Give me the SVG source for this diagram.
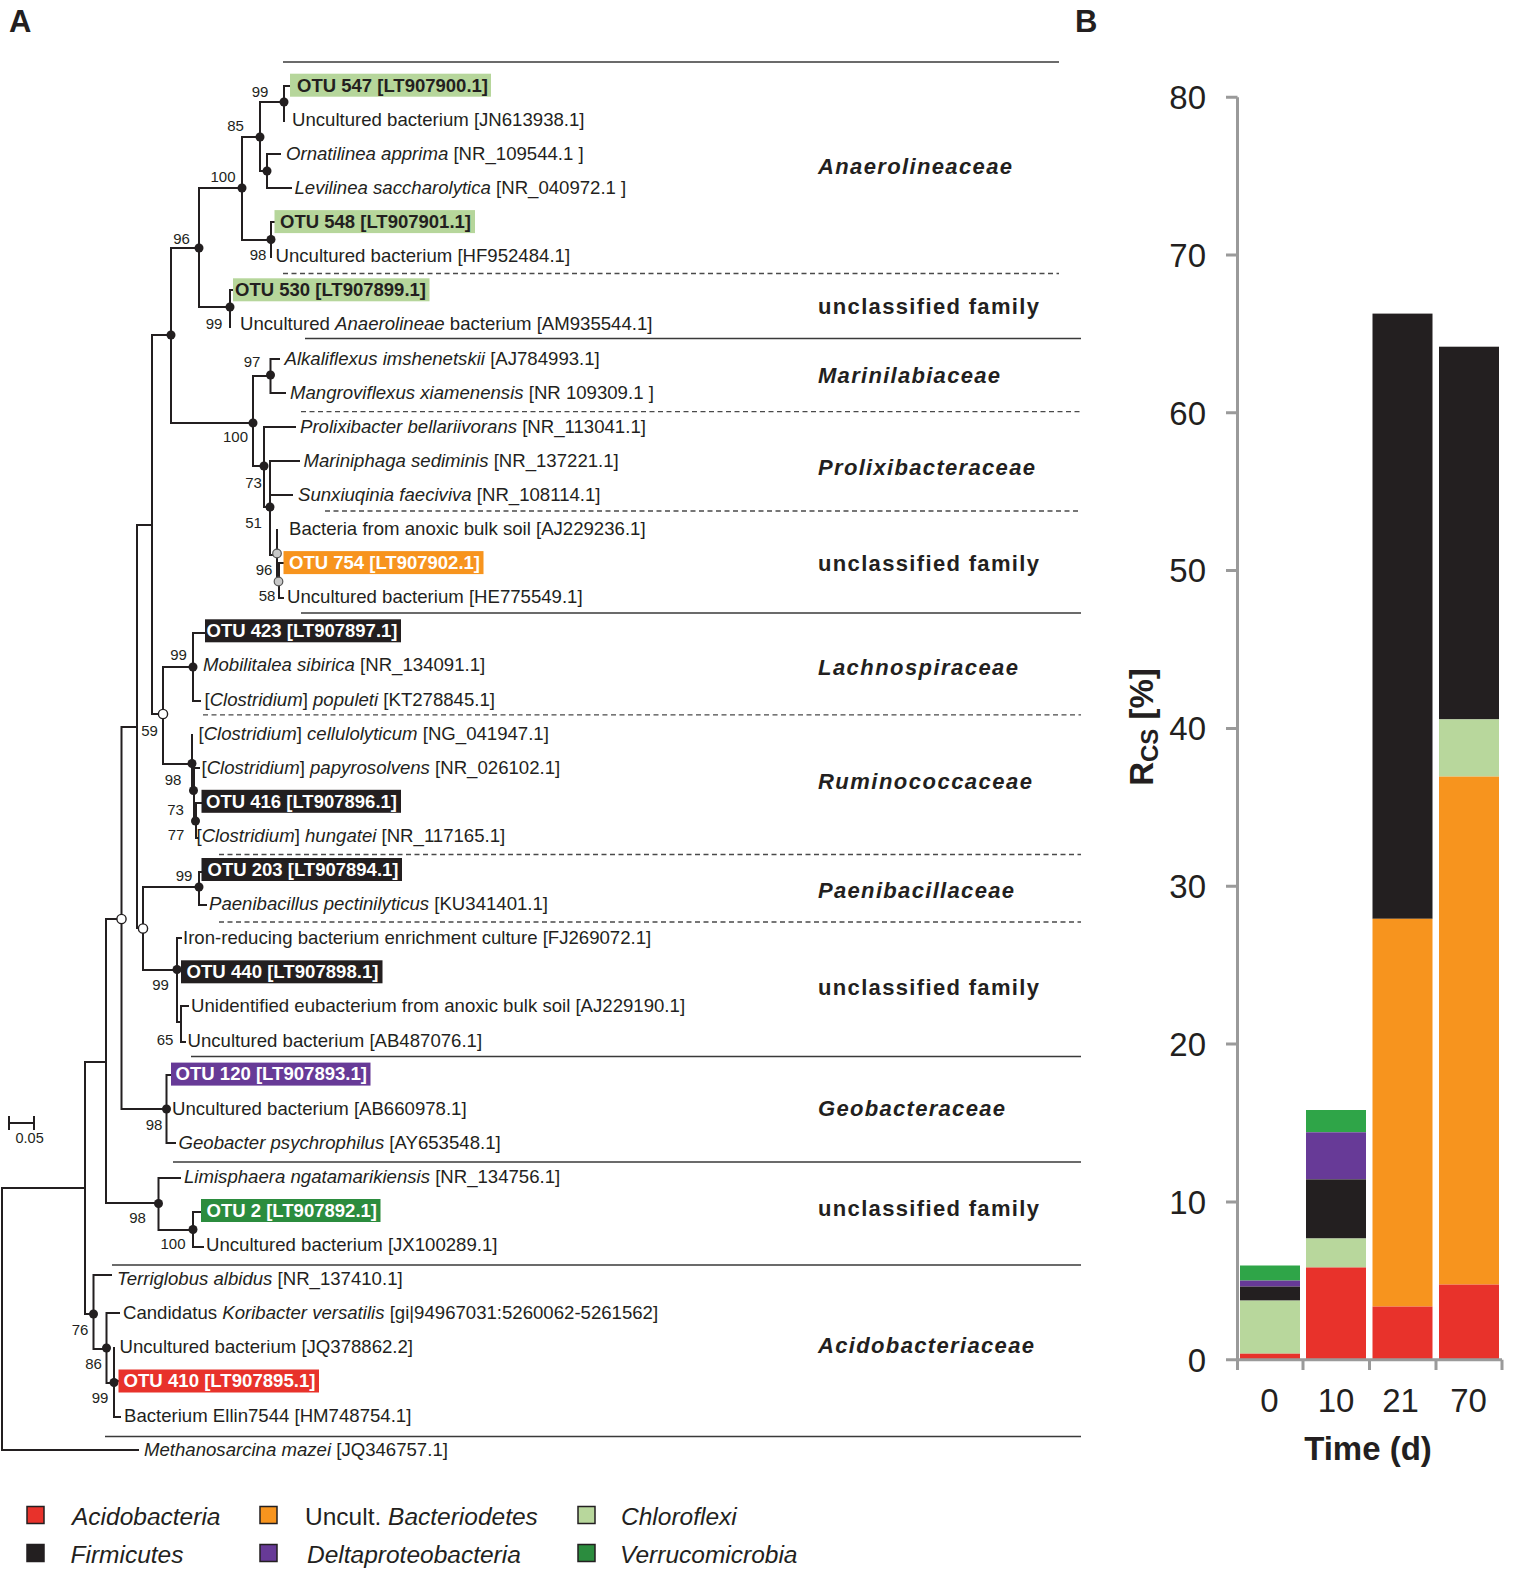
<svg xmlns="http://www.w3.org/2000/svg" width="1538" height="1571" viewBox="0 0 1538 1571">
<style>
text{font-family:"Liberation Sans",Arial,Helvetica,sans-serif;fill:#231f20}
.t{font-size:18.6px}
.i{font-style:italic}
.otu{font-size:17.5px;font-weight:bold}
.w{fill:#fff}
.bs{font-size:15px;text-anchor:middle}
.fam{font-size:22px;font-weight:bold}
.br{fill:none;stroke:#231f20;stroke-width:2;stroke-linecap:square}
.sep{stroke:#3a3a3a;stroke-width:1.5}
.dash{stroke:#4a4a4a;stroke-width:1.3;stroke-dasharray:5 3.5}
.dot{fill:#231f20}
.odot{fill:#fff;stroke:#231f20;stroke-width:1.4}
.gdot{fill:#c8c8c8;stroke:#555;stroke-width:1.2}
.ax{stroke:#9a9a9a;stroke-width:3;fill:none}
.tk{font-size:33px}
.leg{font-size:24.5px}
.sq{stroke:#231f20;stroke-width:1.5}
</style>

<text x="9" y="32" font-size="31" font-weight="bold">A</text>
<text x="1075" y="32" font-size="31" font-weight="bold">B</text>

<!-- family separators -->
<g id="separators">
<line class="sep" x1="283" y1="62" x2="1059" y2="62"/>
<line class="dash" x1="283" y1="273.5" x2="1059" y2="273.5"/>
<line class="sep" x1="305" y1="338.5" x2="1081" y2="338.5"/>
<line class="dash" x1="301" y1="411.7" x2="1081" y2="411.7"/>
<line class="dash" x1="325" y1="511" x2="1081" y2="511"/>
<line class="sep" x1="301" y1="613" x2="1081" y2="613"/>
<line class="dash" x1="203" y1="714.8" x2="1081" y2="714.8"/>
<line class="dash" x1="219" y1="854.5" x2="1081" y2="854.5"/>
<line class="dash" x1="219" y1="922" x2="1081" y2="922"/>
<line class="sep" x1="191" y1="1056.5" x2="1081" y2="1056.5"/>
<line class="sep" x1="173" y1="1162" x2="1081" y2="1162"/>
<line class="sep" x1="112" y1="1265" x2="1081" y2="1265"/>
<line class="sep" x1="105" y1="1436.5" x2="1081" y2="1436.5"/>
</g>

<!-- family labels -->
<g id="families">
<text class="fam i" x="818" y="174" textLength="194" lengthAdjust="spacing">Anaerolineaceae</text>
<text class="fam" x="818" y="314" textLength="221" lengthAdjust="spacing">unclassified family</text>
<text class="fam i" x="818" y="383" textLength="182" lengthAdjust="spacing">Marinilabiaceae</text>
<text class="fam i" x="818" y="474.5" textLength="217" lengthAdjust="spacing">Prolixibacteraceae</text>
<text class="fam" x="818" y="570.5" textLength="221" lengthAdjust="spacing">unclassified family</text>
<text class="fam i" x="818" y="674.5" textLength="200" lengthAdjust="spacing">Lachnospiraceae</text>
<text class="fam i" x="818" y="789" textLength="214" lengthAdjust="spacing">Ruminococcaceae</text>
<text class="fam i" x="818" y="898" textLength="196" lengthAdjust="spacing">Paenibacillaceae</text>
<text class="fam" x="818" y="994.5" textLength="221" lengthAdjust="spacing">unclassified family</text>
<text class="fam i" x="818" y="1115.5" textLength="187" lengthAdjust="spacing">Geobacteraceae</text>
<text class="fam" x="818" y="1216" textLength="221" lengthAdjust="spacing">unclassified family</text>
<text class="fam i" x="818" y="1353" textLength="216" lengthAdjust="spacing">Acidobacteriaceae</text>
</g>

<!-- tree branches -->
<g id="connectors">
<path class="br" d="M284 86V121M284 86H290"/>
<path class="br" d="M260 102V171M260 102H284M260 171H267"/>
<path class="br" d="M267 154V188M267 154H280M267 188H291"/>
<path class="br" d="M242 137V240M242 137H260M242 240H271"/>
<path class="br" d="M271 222V257M271 222H274"/>
<path class="br" d="M199 188V307M199 188H242M199 307H230"/>
<path class="br" d="M230 290V327M230 290H233"/>
<path class="br" d="M171 248V423M171 248H199M171 423H253"/>
<path class="br" d="M253 376V466M253 376H270M253 466H264"/>
<path class="br" d="M270.5 359V393M270.5 359H279M270.5 393H285"/>
<path class="br" d="M264 427V507M264 427H295M264 507H270"/>
<path class="br" d="M270 461V555M270 461H299M270 495H292M270 555H277"/>
<path class="br" d="M277 530V581M277 581H279"/>
<path class="br" d="M279 563V598M279 563H283M279 598H283"/>
<path class="br" d="M152 335V714M152 335H171M152 714H163"/>
<path class="br" d="M163 667V764M163 667H193M163 764H192"/>
<path class="br" d="M193 633V701M193 633H204M193 701H200"/>
<path class="br" d="M192 735V790"/>
<path class="br" d="M194 768V822M194 768H199"/>
<path class="br" d="M196 803V838M196 803H201M196 838H198"/>
<path class="br" d="M137 525V928M137 525H152M137 928H143"/>
<path class="br" d="M143 887V970M143 887H199M143 970H177"/>
<path class="br" d="M199 872V905M199 872H201M199 905H206"/>
<path class="br" d="M177 938V1022M177 938H181M177 1022H181"/>
<path class="br" d="M181 1006V1042M181 1006H188M181 1042H185"/>
<path class="br" d="M121.5 727V1109M121.5 727H137M121.5 1109H166.5"/>
<path class="br" d="M166.5 1075V1143M166.5 1075H170M166.5 1143H175"/>
<path class="br" d="M106 919V1203M106 919H121.5M106 1203H158.5"/>
<path class="br" d="M158.5 1178V1230M158.5 1178H180M158.5 1230H193"/>
<path class="br" d="M193 1212V1247M193 1212H200M193 1247H203"/>
<path class="br" d="M85 1062V1314M85 1062H106M85 1314H93.5"/>
<path class="br" d="M93.5 1275V1349M93.5 1275H111M93.5 1349H106.5"/>
<path class="br" d="M106.5 1313V1383M106.5 1313H119M106.5 1383H114"/>
<path class="br" d="M114 1348V1417M114 1381H118M114 1417H120"/>
<path class="br" d="M2 1188V1450M2 1188H85M2 1450H138"/>
<path class="br" d="M9 1123H34M9 1117V1129M34 1117V1129" stroke-width="1.8"/>
</g>
<text x="15.5" y="1143" font-size="14.5">0.05</text>

<!-- internal nodes -->
<g id="internal-nodes">
<circle id="n01" class="dot" cx="284" cy="102" r="4.5"/>
<circle id="n02" class="dot" cx="260" cy="137" r="4.5"/>
<circle id="n03" class="dot" cx="267" cy="171" r="4.5"/>
<circle id="n04" class="dot" cx="242" cy="188" r="4.5"/>
<circle id="n05" class="dot" cx="271" cy="239.5" r="4.5"/>
<circle id="n06" class="dot" cx="199" cy="248" r="4.5"/>
<circle id="n07" class="dot" cx="230" cy="307" r="4.5"/>
<circle id="n08" class="dot" cx="171" cy="335" r="4.5"/>
<circle id="n09" class="dot" cx="270.5" cy="375" r="4.5"/>
<circle id="n10" class="dot" cx="253" cy="423" r="4.5"/>
<circle id="n11" class="dot" cx="264" cy="466" r="4.5"/>
<circle id="n12" class="dot" cx="270" cy="507" r="4.5"/>
<circle id="n13" class="gdot" cx="277" cy="553.5" r="4.3"/>
<circle id="n14" class="gdot" cx="278.5" cy="581.5" r="4.3"/>
<circle id="n15" class="odot" cx="163" cy="714" r="4.6"/>
<circle id="n16" class="dot" cx="193" cy="667" r="4.5"/>
<circle id="n17" class="dot" cx="192" cy="763.5" r="4.5"/>
<circle id="n18" class="dot" cx="193.5" cy="790.5" r="4.5"/>
<circle id="n19" class="dot" cx="195.5" cy="821" r="4.5"/>
<circle id="n20" class="dot" cx="199" cy="887" r="4.5"/>
<circle id="n21" class="odot" cx="143" cy="928.5" r="4.6"/>
<circle id="n22" class="dot" cx="177" cy="969.5" r="4.5"/>
<circle id="n23" class="odot" cx="121.5" cy="919" r="4.6"/>
<circle id="n24" class="dot" cx="166.5" cy="1109" r="4.5"/>
<circle id="n25" class="dot" cx="158.5" cy="1203.5" r="4.5"/>
<circle id="n26" class="dot" cx="193" cy="1229.5" r="4.5"/>
<circle id="n27" class="dot" cx="93.5" cy="1314" r="4.5"/>
<circle id="n28" class="dot" cx="106.5" cy="1348" r="4.5"/>
<circle id="n29" class="dot" cx="114" cy="1382.5" r="4.5"/>
</g>

<!-- bootstrap values -->
<g id="bootstrap">
<text class="bs" x="260" y="97">99</text>
<text class="bs" x="235.5" y="130.5">85</text>
<text class="bs" x="223" y="182">100</text>
<text class="bs" x="181.5" y="243.5">96</text>
<text class="bs" x="258" y="259.5">98</text>
<text class="bs" x="214" y="328.5">99</text>
<text class="bs" x="252" y="367">97</text>
<text class="bs" x="235.5" y="442">100</text>
<text class="bs" x="253.5" y="488">73</text>
<text class="bs" x="253.5" y="528">51</text>
<text class="bs" x="264" y="574.5">96</text>
<text class="bs" x="267" y="601">58</text>
<text class="bs" x="178.5" y="659.5">99</text>
<text class="bs" x="149.5" y="735.5">59</text>
<text class="bs" x="173" y="785">98</text>
<text class="bs" x="175.5" y="814.5">73</text>
<text class="bs" x="176" y="840">77</text>
<text class="bs" x="184" y="881">99</text>
<text class="bs" x="160.5" y="989.5">99</text>
<text class="bs" x="165" y="1045">65</text>
<text class="bs" x="154" y="1130">98</text>
<text class="bs" x="137.5" y="1223">98</text>
<text class="bs" x="173" y="1249">100</text>
<text class="bs" x="80" y="1335">76</text>
<text class="bs" x="93.5" y="1369">86</text>
<text class="bs" x="100" y="1403">99</text>
</g>

<!-- leaves -->
<g id="leaf01"><rect x="290" y="73.7" width="201" height="23" fill="#b6d69b"/><text class="otu" x="297" y="91.5" textLength="191" lengthAdjust="spacingAndGlyphs">OTU 547 [LT907900.1]</text></g>
<g id="leaf02"><text class="t" x="292" y="125.8">Uncultured bacterium [JN613938.1]</text></g>
<g id="leaf03"><text class="t" x="286" y="159.9"><tspan class="i">Ornatilinea apprima</tspan> [NR_109544.1 ]</text></g>
<g id="leaf04"><text class="t" x="294.5" y="194"><tspan class="i">Levilinea saccharolytica</tspan> [NR_040972.1 ]</text></g>
<g id="leaf05"><rect x="274.5" y="210.1" width="200.5" height="23" fill="#b6d69b"/><text class="otu" x="280" y="227.9" textLength="191" lengthAdjust="spacingAndGlyphs">OTU 548 [LT907901.1]</text></g>
<g id="leaf06"><text class="t" x="275.5" y="262.2">Uncultured bacterium [HF952484.1]</text></g>
<g id="leaf07"><rect x="233" y="278.3" width="196.5" height="23" fill="#b6d69b"/><text class="otu" x="235" y="296.1" textLength="191" lengthAdjust="spacingAndGlyphs">OTU 530 [LT907899.1]</text></g>
<g id="leaf08"><text class="t" x="240" y="330.4">Uncultured <tspan class="i">Anaerolineae</tspan> bacterium [AM935544.1]</text></g>
<g id="leaf09"><text class="t" x="284.5" y="364.5"><tspan class="i">Alkaliflexus imshenetskii</tspan> [AJ784993.1]</text></g>
<g id="leaf10"><text class="t" x="290" y="398.6"><tspan class="i">Mangroviflexus xiamenensis</tspan> [NR 109309.1 ]</text></g>
<g id="leaf11"><text class="t" x="300" y="432.7"><tspan class="i">Prolixibacter bellariivorans</tspan> [NR_113041.1]</text></g>
<g id="leaf12"><text class="t" x="303.5" y="466.8"><tspan class="i">Mariniphaga sediminis</tspan> [NR_137221.1]</text></g>
<g id="leaf13"><text class="t" x="298" y="500.9"><tspan class="i">Sunxiuqinia faeciviva</tspan> [NR_108114.1]</text></g>
<g id="leaf14"><text class="t" x="289" y="535">Bacteria from anoxic bulk soil [AJ229236.1]</text></g>
<g id="leaf15"><rect x="283.5" y="551.1" width="200" height="23" fill="#f7941e"/><text class="otu w" x="289" y="568.9" textLength="191" lengthAdjust="spacingAndGlyphs">OTU 754 [LT907902.1]</text></g>
<g id="leaf16"><text class="t" x="287" y="603.2">Uncultured bacterium [HE775549.1]</text></g>
<g id="leaf17"><rect x="205" y="619.3" width="196" height="23" fill="#231f20"/><text class="otu w" x="206.5" y="637.1" textLength="191" lengthAdjust="spacingAndGlyphs">OTU 423 [LT907897.1]</text></g>
<g id="leaf18"><text class="t" x="203" y="671.4"><tspan class="i">Mobilitalea sibirica</tspan> [NR_134091.1]</text></g>
<g id="leaf19"><text class="t" x="204.5" y="705.5">[<tspan class="i">Clostridium</tspan>] <tspan class="i">populeti</tspan> [KT278845.1]</text></g>
<g id="leaf20"><text class="t" x="198.5" y="739.6">[<tspan class="i">Clostridium</tspan>] <tspan class="i">cellulolyticum</tspan> [NG_041947.1]</text></g>
<g id="leaf21"><text class="t" x="201.5" y="773.7">[<tspan class="i">Clostridium</tspan>] <tspan class="i">papyrosolvens</tspan> [NR_026102.1]</text></g>
<g id="leaf22"><rect x="201.5" y="789.8" width="199.5" height="23" fill="#231f20"/><text class="otu w" x="206" y="807.6" textLength="191" lengthAdjust="spacingAndGlyphs">OTU 416 [LT907896.1]</text></g>
<g id="leaf23"><text class="t" x="196.5" y="841.9">[<tspan class="i">Clostridium</tspan>] <tspan class="i">hungatei</tspan> [NR_117165.1]</text></g>
<g id="leaf24"><rect x="201.5" y="858" width="200.5" height="23" fill="#231f20"/><text class="otu w" x="207.5" y="875.8" textLength="191" lengthAdjust="spacingAndGlyphs">OTU 203 [LT907894.1]</text></g>
<g id="leaf25"><text class="t" x="209" y="910.1"><tspan class="i">Paenibacillus pectinilyticus</tspan> [KU341401.1]</text></g>
<g id="leaf26"><text class="t" x="183" y="944.2">Iron-reducing bacterium enrichment culture [FJ269072.1]</text></g>
<g id="leaf27"><rect x="181" y="960.3" width="201.5" height="23" fill="#231f20"/><text class="otu w" x="186.5" y="978.1" textLength="192" lengthAdjust="spacingAndGlyphs">OTU 440 [LT907898.1]</text></g>
<g id="leaf28"><text class="t" x="191" y="1012.4">Unidentified eubacterium from anoxic bulk soil [AJ229190.1]</text></g>
<g id="leaf29"><text class="t" x="187.5" y="1046.5">Uncultured bacterium [AB487076.1]</text></g>
<g id="leaf30"><rect x="171" y="1062.6" width="199.5" height="23" fill="#673a97"/><text class="otu w" x="175.5" y="1080.4" textLength="191.5" lengthAdjust="spacingAndGlyphs">OTU 120 [LT907893.1]</text></g>
<g id="leaf31"><text class="t" x="172" y="1114.7">Uncultured bacterium [AB660978.1]</text></g>
<g id="leaf32"><text class="t" x="178.5" y="1148.8"><tspan class="i">Geobacter psychrophilus</tspan> [AY653548.1]</text></g>
<g id="leaf33"><text class="t" x="184" y="1182.9"><tspan class="i">Limisphaera ngatamarikiensis</tspan> [NR_134756.1]</text></g>
<g id="leaf34"><rect x="201" y="1199" width="179.5" height="23" fill="#2b8c3e"/><text class="otu w" x="206.5" y="1216.8" textLength="170.5" lengthAdjust="spacingAndGlyphs">OTU 2 [LT907892.1]</text></g>
<g id="leaf35"><text class="t" x="206" y="1251.1">Uncultured bacterium [JX100289.1]</text></g>
<g id="leaf36"><text class="t" x="117" y="1285.2"><tspan class="i">Terriglobus albidus</tspan> [NR_137410.1]</text></g>
<g id="leaf37"><text class="t" x="123" y="1319.3">Candidatus <tspan class="i">Koribacter versatilis</tspan> [gi|94967031:5260062-5261562]</text></g>
<g id="leaf38"><text class="t" x="119.5" y="1353.4">Uncultured bacterium [JQ378862.2]</text></g>
<g id="leaf39"><rect x="118.5" y="1369.5" width="200.5" height="23" fill="#e8322b"/><text class="otu w" x="123.5" y="1387.3" textLength="192" lengthAdjust="spacingAndGlyphs">OTU 410 [LT907895.1]</text></g>
<g id="leaf40"><text class="t" x="124" y="1421.6">Bacterium Ellin7544 [HM748754.1]</text></g>
<g id="leaf41"><text class="t" x="144" y="1455.7"><tspan class="i">Methanosarcina mazei</tspan> [JQ346757.1]</text></g>

<!-- panel B chart -->
<g id="chart">
<g id="bar-0d">
<rect x="1240" y="1265.5" width="60" height="15.1" fill="#2fa548"/>
<rect x="1240" y="1280.6" width="60" height="6" fill="#673a97"/>
<rect x="1240" y="1286.6" width="60" height="14" fill="#231f20"/>
<rect x="1240" y="1300.6" width="60" height="53.1" fill="#b8d79c"/>
<rect x="1240" y="1353.7" width="60" height="6" fill="#e8322b"/>
</g>
<g id="bar-10d">
<rect x="1306" y="1110" width="60" height="22.3" fill="#2fa548"/>
<rect x="1306" y="1132.3" width="60" height="47.1" fill="#673a97"/>
<rect x="1306" y="1179.4" width="60" height="59.1" fill="#231f20"/>
<rect x="1306" y="1238.5" width="60" height="29" fill="#b8d79c"/>
<rect x="1306" y="1267.5" width="60" height="92.2" fill="#e8322b"/>
</g>
<g id="bar-21d">
<rect x="1372.5" y="313.6" width="60" height="605.2" fill="#231f20"/>
<rect x="1372.5" y="918.8" width="60" height="387.8" fill="#f7941e"/>
<rect x="1372.5" y="1306.6" width="60" height="53.1" fill="#e8322b"/>
</g>
<g id="bar-70d">
<rect x="1439" y="346.7" width="60" height="372.7" fill="#231f20"/>
<rect x="1439" y="719.4" width="60" height="57.2" fill="#b8d79c"/>
<rect x="1439" y="776.6" width="60" height="508" fill="#f7941e"/>
<rect x="1439" y="1284.6" width="60" height="75.1" fill="#e8322b"/>
</g>
<path class="ax" d="M1237.5 97.2V1359.7M1226 97.2H1237.5M1226 255H1237.5M1226 412.8H1237.5M1226 570.6H1237.5M1226 728.5H1237.5M1226 886.3H1237.5M1226 1044.1H1237.5M1226 1201.9H1237.5M1226 1359.7H1237.5"/>
<path class="ax" d="M1237.5 1359.7H1502M1237.5 1359.7V1370M1303 1359.7V1370M1369.5 1359.7V1370M1436 1359.7V1370M1502 1359.7V1370"/>
<g text-anchor="end" class="tk">
<text class="tk" x="1206" y="109">80</text>
<text class="tk" x="1206" y="266.8">70</text>
<text class="tk" x="1206" y="424.6">60</text>
<text class="tk" x="1206" y="582.4">50</text>
<text class="tk" x="1206" y="740.3">40</text>
<text class="tk" x="1206" y="898.1">30</text>
<text class="tk" x="1206" y="1055.9">20</text>
<text class="tk" x="1206" y="1213.7">10</text>
<text class="tk" x="1206" y="1371.5">0</text>
</g>
<g text-anchor="middle">
<text class="tk" x="1269.5" y="1412">0</text>
<text class="tk" x="1336" y="1412">10</text>
<text class="tk" x="1400.5" y="1412">21</text>
<text class="tk" x="1468.5" y="1412">70</text>
</g>
<text x="1368" y="1459.5" font-size="33" font-weight="bold" text-anchor="middle">Time (d)</text>
<text transform="translate(1153,727) rotate(-90)" font-size="33" font-weight="bold" text-anchor="middle">R<tspan font-size="24" dy="5">CS</tspan><tspan dy="-5"> [%]</tspan></text>
</g>

<!-- legend -->
<g id="legend">
<rect class="sq" x="27" y="1506.5" width="17" height="17" fill="#e8322b"/>
<text class="leg i" x="72" y="1524.5">Acidobacteria</text>
<rect class="sq" x="260" y="1506.5" width="17" height="17" fill="#f7941e"/>
<text class="leg" x="305" y="1524.5">Uncult. <tspan class="i">Bacteriodetes</tspan></text>
<rect class="sq" x="578" y="1506.5" width="17" height="17" fill="#b8d79c"/>
<text class="leg i" x="621" y="1524.5">Chloroflexi</text>
<rect class="sq" x="27" y="1544.5" width="17" height="17" fill="#231f20"/>
<text class="leg i" x="70.5" y="1562.5">Firmicutes</text>
<rect class="sq" x="260" y="1544.5" width="17" height="17" fill="#673a97"/>
<text class="leg i" x="307" y="1562.5">Deltaproteobacteria</text>
<rect class="sq" x="578" y="1544.5" width="17" height="17" fill="#2b8c3e"/>
<text class="leg i" x="620" y="1562.5">Verrucomicrobia</text>
</g>
</svg>
